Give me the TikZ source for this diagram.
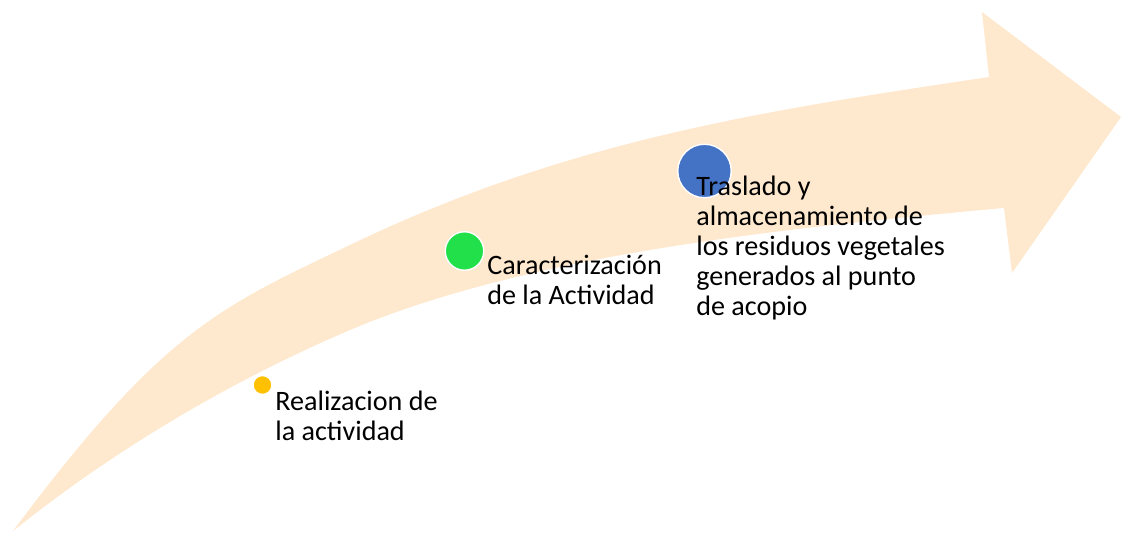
\documentclass[tikz,border=0pt]{standalone}
\usepackage{fontspec}
\setmainfont{Carlito}
\usetikzlibrary{positioning}
\definecolor{flecha}{RGB}{254,232,206}
\definecolor{amarillo}{RGB}{255,192,0}
\definecolor{verde}{RGB}{34,224,74}
\definecolor{azul}{RGB}{68,114,196}

\begin{document}
\begin{tikzpicture}
  [x=0.02cm, y=-0.02cm,
   punto/.style={circle, draw=white, line width=0.8pt, inner sep=0pt, minimum size=#1},
   paso/.style={anchor=base west, align=left, inner sep=0pt,
     font=\fontsize{16}{17.2}\selectfont}
  ]
  \useasboundingbox (0,0) rectangle (1123,533);

  % flecha curva de fondo
  \fill[flecha] (13,531) .. controls (163,330) and (220,307) .. (350,245)
    .. controls (570,139) and (769,110) .. (989,77)
    -- (982,12) -- (1121,117) -- (1012,273) -- (1004,208)
    .. controls (784,228) and (530,254) .. (350,330)
    .. controls (240,377) and (123,443) .. (13,531)
    -- cycle;

  \node[punto=0.38cm, fill=amarillo] (realizacion) at (262.5,385) {};
  \node[punto=0.77cm, fill=verde] (caracterizacion) at (464.5,251) {};
  \node[punto=1.07cm, fill=azul] (traslado) at (704.5,171) {};

  % anclas en la linea base de la ultima linea
  \node[paso] (realizaciontext) at (275,441) {Realizacion de\\la actividad};
  \node[paso] (caracterizaciontext) at (487,305) {Caracterización\\de la Actividad};
  \node[paso] (trasladotext) at (696,316) {Traslado y\\almacenamiento de\\los residuos vegetales\\generados al punto\\de acopio};
\end{tikzpicture}
\end{document}
